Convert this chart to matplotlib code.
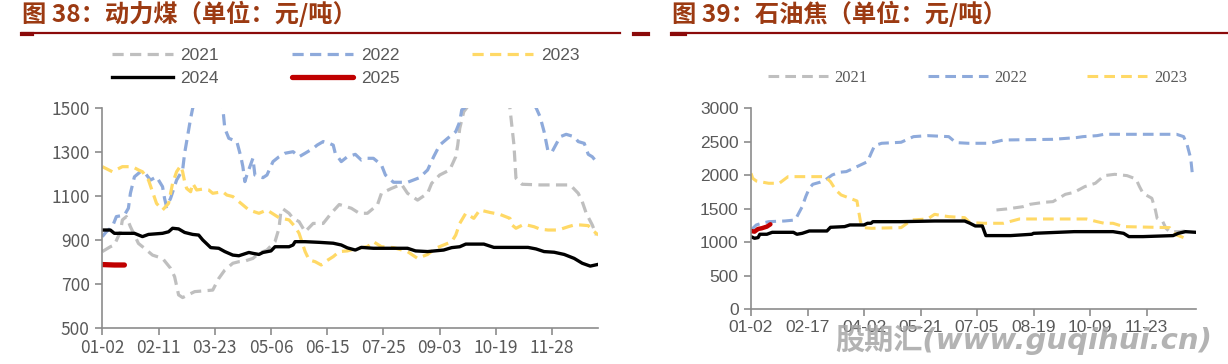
import matplotlib
matplotlib.use("Agg")
import matplotlib.pyplot as plt
from matplotlib.lines import Line2D

plt.rcParams['font.family'] = ['Noto Sans CJK SC', 'DejaVu Sans']

# ---- 图38 动力煤 (x = 交易日序号) ----
coal_ticks = ['01-02', '02-11', '03-23', '05-06', '06-15', '07-25', '09-03', '10-19', '11-28']
coal_x_2021 = [0, 4, 6, 9, 10, 12, 14, 18, 21, 25, 30, 34, 36, 38, 40, 46, 50, 55, 58, 61, 65, 68, 71, 75, 78, 82, 86, 88, 89,
               90, 93, 95, 98, 101, 105, 110, 114, 118, 124, 128, 132, 137, 139, 144, 149, 152, 157, 162, 164, 168, 173,
               176, 177, 178, 180, 190, 200, 203, 205, 206, 209, 218, 228, 233, 237, 239, 241, 244, 246]
coal_2021 = [846, 868, 876, 936, 990, 1005, 959, 883, 861, 830, 815, 770, 732, 649, 637, 664, 667, 671, 724, 762, 793, 800, 803,
             815, 838, 853, 891, 952, 1035, 1040, 1020, 997, 982, 936, 974, 974, 1020, 1060, 1043, 1020, 1020, 1058, 1111,
             1133, 1152, 1111, 1080, 1111, 1156, 1194, 1217, 1277, 1330, 1406, 1482, 1600, 1600, 1497, 1330, 1179, 1152,
             1149, 1149, 1149, 1111, 1073, 1020, 967, 921]
coal_x_2022 = [0, 2, 5, 7, 11, 13, 14, 16, 19, 21, 24, 27, 30, 31, 32, 34, 37, 40, 41, 42, 44, 45, 52, 60, 61, 63, 67, 69, 70,
               71, 72, 75, 76, 80, 82, 85, 88, 91, 95, 98, 101, 105, 107, 110, 113, 115, 116, 119, 122, 126, 129, 132, 135,
               139, 141, 145, 152, 158, 162, 165, 168, 172, 176, 178, 179, 182, 200, 216, 218, 220, 222, 224, 228, 231, 235,
               237, 240, 242, 244, 246]
coal_2022 = [914, 936, 959, 1005, 1012, 1043, 1111, 1186, 1209, 1206, 1171, 1186, 1141, 1088, 1050, 1088, 1171, 1217, 1293,
             1346, 1452, 1497, 1650, 1500, 1406, 1361, 1346, 1277, 1232, 1164, 1194, 1270, 1194, 1182, 1194, 1255, 1277,
             1293, 1300, 1277, 1293, 1315, 1330, 1346, 1338, 1330, 1293, 1255, 1277, 1288, 1262, 1270, 1270, 1240, 1194,
             1161, 1161, 1182, 1217, 1277, 1330, 1361, 1391, 1436, 1490, 1510, 1650, 1500, 1459, 1391, 1300, 1300, 1368,
             1379, 1368, 1346, 1338, 1288, 1277, 1255]
coal_x_2023 = [0, 5, 10, 15, 18, 20, 23, 25, 27, 30, 33, 35, 37, 39, 40, 41, 42, 44, 45, 47, 50, 53, 55, 60, 62, 65, 70, 73,
               78, 82, 88, 93, 96, 98, 101, 103, 106, 109, 111, 115, 118, 122, 127, 132, 135, 139, 145, 152, 157, 162, 166,
               170, 174, 176, 178, 181, 185, 188, 193, 198, 203, 204, 206, 210, 215, 218, 222, 227, 232, 235, 238, 242, 244,
               247]
coal_2023 = [1232, 1209, 1232, 1232, 1217, 1209, 1171, 1118, 1065, 1035, 1065, 1156, 1209, 1236, 1209, 1164, 1133, 1118, 1156,
             1126, 1130, 1126, 1111, 1118, 1103, 1096, 1058, 1035, 1020, 1035, 1000, 990, 959, 929, 846, 808, 800, 785, 800,
             823, 846, 849, 861, 868, 891, 868, 864, 846, 815, 833, 861, 876, 891, 921, 974, 1020, 997, 1035, 1024, 1015, 997,
             967, 952, 970, 959, 948, 944, 944, 959, 967, 967, 964, 944, 921]
coal_x_2024 = [0, 4, 6, 16, 20, 23, 30, 33, 35, 38, 41, 45, 48, 50, 54, 58, 61, 65, 68, 70, 73, 75, 78, 80, 84, 86, 93, 95, 96,
               101, 108, 115, 119, 122, 126, 129, 135, 152, 156, 162, 170, 174, 178, 181, 190, 195, 212, 216, 220, 225, 230,
               235, 239, 243, 247]
coal_2024 = [944, 944, 929, 929, 914, 924, 929, 936, 952, 949, 933, 924, 921, 899, 864, 861, 846, 830, 827, 833, 842, 838, 833,
             842, 849, 868, 868, 876, 891, 891, 888, 884, 876, 863, 853, 865, 861, 861, 849, 846, 853, 864, 868, 880, 880, 865,
             865, 858, 846, 843, 833, 815, 793, 780, 788]
coal_x_2025 = [0, 3, 6, 9, 11]
coal_2025 = [787, 786, 785, 785, 785]

# ---- 图39 石油焦 ----
coke_ticks = ['01-02', '02-17', '04-02', '05-21', '07-05', '08-19', '10-09', '11-23']
coke_x_2021 = [139, 145, 154, 158, 166, 171, 178, 183, 189, 195, 200, 206, 213, 218, 220, 222, 227, 229, 230, 233, 235, 237,
               242, 246]
coke_2021 = [1483, 1498, 1532, 1567, 1597, 1607, 1716, 1746, 1831, 1881, 1995, 2015, 1995, 1945, 1831, 1731, 1657, 1483,
             1358, 1318, 1209, 1159, 1159, 1169]
coke_x_2022 = [0, 1, 3, 6, 10, 19, 25, 27, 29, 31, 33, 35, 39, 42, 46, 50, 54, 58, 62, 66, 68, 70, 74, 85, 92, 100, 112, 116,
               123, 128, 135, 143, 171, 184, 188, 196, 200, 241, 245, 247, 249, 250]
coke_2022 = [1184, 1209, 1259, 1284, 1308, 1318, 1333, 1433, 1532, 1682, 1806, 1866, 1896, 1930, 2005, 2045, 2055, 2104, 2154,
             2204, 2328, 2443, 2478, 2493, 2577, 2592, 2577, 2488, 2478, 2478, 2478, 2527, 2537, 2562, 2577, 2592, 2612,
             2612, 2577, 2453, 2254, 2005]
coke_x_2023 = [0, 1, 3, 10, 16, 21, 42, 45, 48, 51, 60, 61, 62, 64, 68, 85, 91, 100, 104, 108, 112, 121, 124, 132, 143, 152,
               190, 196, 200, 205, 211, 237, 241, 245]
coke_2023 = [2030, 1955, 1915, 1881, 1881, 1980, 1980, 1905, 1781, 1707, 1617, 1458, 1308, 1219, 1209, 1219, 1333, 1348, 1418,
             1398, 1383, 1368, 1294, 1284, 1284, 1348, 1348, 1308, 1284, 1284, 1234, 1219, 1109, 1070]
coke_x_2024 = [0, 2, 4, 5, 9, 12, 24, 26, 29, 33, 43, 45, 53, 56, 64, 66, 68, 69, 85, 104, 121, 124, 127, 131, 133, 147, 159,
               160, 183, 205, 211, 214, 222, 239, 242, 246, 252]
coke_2024 = [1085, 1060, 1070, 1120, 1120, 1149, 1149, 1120, 1134, 1169, 1169, 1224, 1234, 1259, 1259, 1284, 1284, 1308, 1308,
             1318, 1318, 1284, 1244, 1244, 1100, 1100, 1120, 1134, 1159, 1159, 1134, 1085, 1085, 1100, 1134, 1159, 1149]
coke_x_2025 = [0, 2, 4, 6, 9, 11]
coke_2025 = [1169, 1159, 1199, 1209, 1234, 1269]

c21, c22, c23, c24, c25 = '#bfbfbf', '#8eaadb', '#ffd966', '#000000', '#c00000'
tick_col = '#595959'
title_col = '#9c3a12'
rule_col = '#8b0a0a'
dash = (3.5, 2.0)

fig = plt.figure(figsize=(12.28, 3.64), dpi=100)


def style_axes(ax, ticks, step, xmax, ylo, yhi, ystep, font):
    ax.set_xlim(0, xmax)
    ax.set_ylim(ylo, yhi)
    ax.set_xticks(range(0, step * len(ticks), step))
    ax.set_xticklabels(ticks, fontfamily=font)
    ax.set_yticks(range(ylo, yhi + 1, ystep))
    for lab in ax.get_yticklabels():
        lab.set_fontfamily(font)
    for s in ['top', 'right']:
        ax.spines[s].set_visible(False)
    for s in ['left', 'bottom']:
        ax.spines[s].set_color('#8c8c8c')
        ax.spines[s].set_linewidth(1.2)
    ax.tick_params(axis='both', colors='#8c8c8c', labelcolor=tick_col, labelsize=12.5, length=5, width=1.2)
    ax.tick_params(axis='y', pad=4)
    ax.tick_params(axis='x', pad=3)


# left panel
ax1 = fig.add_axes([102.3 / 1228, 1 - 327.7 / 364, 496 / 1228, 220 / 364])
ax1.plot(coal_x_2021, coal_2021, color=c21, lw=2.3, dashes=dash, label='2021')
ax1.plot(coal_x_2022, coal_2022, color=c22, lw=2.3, dashes=dash, label='2022')
ax1.plot(coal_x_2023, coal_2023, color=c23, lw=2.3, dashes=dash, label='2023')
ax1.plot(coal_x_2024, coal_2024, color=c24, lw=2.4, label='2024')
ax1.plot(coal_x_2025, coal_2025, color=c25, lw=3.8, solid_capstyle='round', label='2025')
style_axes(ax1, coal_ticks, 28, 247, 500, 1500, 200, ['Noto Sans CJK SC', 'DejaVu Sans'])

h = {l.get_label(): l for l in ax1.get_lines()}
order = ['2021', '2024', '2022', '2025', '2023']
fig.legend([h[k] for k in order], order, ncol=3, frameon=False, loc='center left',
           bbox_to_anchor=(112 / 1228, 1 - 67 / 364), borderpad=0, borderaxespad=0,
           handlelength=3.5, handletextpad=0.45, columnspacing=4.2, labelspacing=0.45,
           prop={'family': ['Liberation Sans'], 'size': 12.5}, labelcolor=tick_col)

# right panel
ax2 = fig.add_axes([751 / 1228, 1 - 309.3 / 364, 445 / 1228, 201 / 364])
ax2.plot(coke_x_2021, coke_2021, color=c21, lw=2.2, dashes=dash, label='2021')
ax2.plot(coke_x_2022, coke_2022, color=c22, lw=2.2, dashes=dash, label='2022')
ax2.plot(coke_x_2023, coke_2023, color=c23, lw=2.2, dashes=dash, label='2023')
ax2.plot(coke_x_2024, coke_2024, color=c24, lw=2.4)
ax2.plot(coke_x_2025, coke_2025, color=c25, lw=3.2, solid_capstyle='round')
style_axes(ax2, coke_ticks, 32, 252, 0, 3000, 500, ['Liberation Sans'])

h2 = ax2.get_lines()[:3]
fig.legend(h2, ['2021', '2022', '2023'], ncol=3, frameon=False, loc='center left',
           bbox_to_anchor=(768 / 1228, 1 - 78 / 364), borderpad=0, borderaxespad=0,
           handlelength=3.6, handletextpad=0.4, columnspacing=3.6,
           prop={'family': ['Liberation Serif'], 'size': 12}, labelcolor=tick_col)

# titles and rules
fig.text(22 / 1228, 1 - 14 / 364, '图 38：动力煤（单位：元/吨）', fontsize=17.5, fontweight='bold',
         color=title_col, va='center', ha='left')
fig.text(672 / 1228, 1 - 14 / 364, '图 39：石油焦（单位：元/吨）', fontsize=17.5, fontweight='bold',
         color=title_col, va='center', ha='left')
fig.add_artist(Line2D([22 / 1228, 620 / 1228], [1 - 33 / 364] * 2, color=rule_col, lw=1.6))
fig.add_artist(Line2D([22 / 1228, 32 / 1228], [1 - 34 / 364] * 2, color=rule_col, lw=3))
fig.add_artist(Line2D([672 / 1228, 1.0], [1 - 33 / 364] * 2, color=rule_col, lw=1.6))
fig.add_artist(Line2D([672 / 1228, 685 / 1228], [1 - 34 / 364] * 2, color=rule_col, lw=3))
fig.add_artist(Line2D([634 / 1228, 648 / 1228], [1 - 34 / 364] * 2, color=rule_col, lw=3))

# watermark
fig.text(1212 / 1228, 1 - 340 / 364, '股期汇(www.guqihui.cn)', fontsize=21, fontweight='bold', fontstyle='italic',
         family=['DejaVu Sans', 'Noto Sans CJK SC'],
         color='#a6a6a6', alpha=0.85, ha='right', va='center')

fig.savefig('out.png', dpi=100)
